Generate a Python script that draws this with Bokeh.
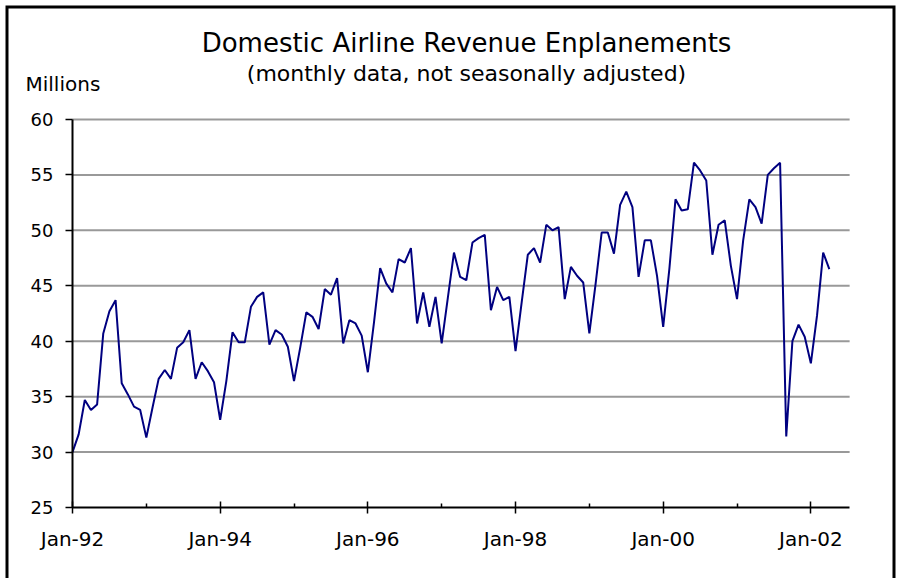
from bokeh.plotting import figure
from bokeh.models import Range1d, FixedTicker
from bokeh.core.properties import value
from bokeh.embed import file_html
from bokeh.resources import INLINE

# ---- data (millions of enplanements, monthly, Jan-1992 .. Apr-2002) ----
values_1992 = [30.0, 31.6, 34.7, 33.8, 34.3, 40.7, 42.7, 43.7, 36.2, 35.2, 34.1, 33.8]
values_1993 = [31.3, 34.0, 36.6, 37.4, 36.6, 39.4, 39.9, 41.0, 36.6, 38.1, 37.3, 36.3]
values_1994 = [32.9, 36.4, 40.8, 39.9, 39.9, 43.1, 44.0, 44.4, 39.7, 41.0, 40.6, 39.5]
values_1995 = [36.4, 39.4, 42.6, 42.2, 41.1, 44.7, 44.2, 45.7, 39.8, 41.9, 41.6, 40.5]
values_1996 = [37.2, 41.7, 46.6, 45.2, 44.4, 47.4, 47.1, 48.4, 41.6, 44.4, 41.3, 44.0]
values_1997 = [39.8, 43.9, 48.0, 45.8, 45.5, 48.9, 49.3, 49.6, 42.8, 44.9, 43.7, 44.0]
values_1998 = [39.1, 43.5, 47.8, 48.4, 47.1, 50.5, 50.0, 50.3, 43.8, 46.7, 45.9, 45.3]
values_1999 = [40.7, 45.1, 49.8, 49.8, 47.9, 52.3, 53.5, 52.1, 45.8, 49.1, 49.1, 45.9]
values_2000 = [41.3, 46.5, 52.8, 51.8, 51.9, 56.1, 55.4, 54.5, 47.8, 50.5, 50.9, 46.8]
values_2001 = [43.8, 49.1, 52.8, 52.1, 50.6, 55.0, 55.6, 56.1, 31.4, 40.0, 41.5, 40.4]
values_2002 = [38.0, 42.3, 48.0, 46.5]

values = (values_1992 + values_1993 + values_1994 + values_1995 + values_1996 +
          values_1997 + values_1998 + values_1999 + values_2000 + values_2001 + values_2002)
months = list(range(len(values)))  # 0 = Jan-92

x_tick_positions = [0, 24, 48, 72, 96, 120]
x_tick_labels = ["Jan-92", "Jan-94", "Jan-96", "Jan-98", "Jan-00", "Jan-02"]
x_minor_positions = [12, 36, 60, 84, 108]
y_ticks = [25, 30, 35, 40, 45, 50, 55, 60]
grid_levels = [30, 35, 40, 45, 50, 55, 60]

title_text = "Domestic Airline Revenue Enplanements"
subtitle_text = "(monthly data, not seasonally adjusted)"
unit_text = "Millions"

# ---- layout: the plot frame covers the whole canvas; scales map data -> pixels ----
W, H = 896, 578
PX0, PY0 = 72, 507       # pixel position of (month 0, value 25)
PX_PER_MONTH = 6.153
PX_PER_UNIT = 11.086
X_END = 126.3            # right end of axis / gridlines (months)
Y_MIN, Y_MAX = 25, 60


def dx(px):
    return (px - PX0) / PX_PER_MONTH


def dy(py):
    return Y_MIN + (PY0 - py) / PX_PER_UNIT


FONT = "DejaVu Sans"

p = figure(width=W, height=H, output_backend="svg", toolbar_location=None,
           x_range=Range1d(dx(0), dx(W)), y_range=Range1d(dy(H), dy(0)),
           min_border=0, min_border_left=0, min_border_right=0,
           min_border_top=0, min_border_bottom=0)
p.outline_line_color = None
p.background_fill_color = "white"
p.border_fill_color = "white"
p.xgrid.visible = False
p.ygrid.visible = False

# horizontal gridlines
p.segment(x0=[0] * len(grid_levels), x1=[X_END] * len(grid_levels),
          y0=grid_levels, y1=grid_levels, line_color="#999999", line_width=2)

# data line
p.line(months, values, line_color="#000080", line_width=2)

# x axis
xa = p.xaxis[0]
xa.fixed_location = Y_MIN
xa.bounds = (0, X_END)
xa.ticker = FixedTicker(ticks=x_tick_positions, minor_ticks=x_minor_positions)
xa.major_label_overrides = {k: v for k, v in zip(x_tick_positions, x_tick_labels)}
xa.axis_line_color = "black"
xa.axis_line_width = 2
xa.major_tick_line_color = "black"
xa.major_tick_line_width = 1.5
xa.major_tick_in = 6
xa.major_tick_out = 6
xa.minor_tick_line_color = "black"
xa.minor_tick_line_width = 1.5
xa.minor_tick_in = 4
xa.minor_tick_out = 0
xa.major_label_text_font = FONT
xa.major_label_text_font_size = "20px"
xa.major_label_text_color = "black"
xa.major_label_standoff = 13

# y axis
ya = p.yaxis[0]
ya.fixed_location = 0
ya.bounds = (Y_MIN, Y_MAX)
ya.ticker = FixedTicker(ticks=y_ticks)
ya.axis_line_color = "black"
ya.axis_line_width = 2
ya.major_tick_line_color = "black"
ya.major_tick_line_width = 1.5
ya.major_tick_in = 0
ya.major_tick_out = 7
ya.minor_tick_line_color = None
ya.major_label_text_font = FONT
ya.major_label_text_font_size = "18px"
ya.major_label_text_color = "black"
ya.major_label_standoff = 12

# texts
p.text(x=[dx(466)], y=[dy(42)], text=[title_text], text_align="center",
       text_baseline="alphabetic", text_font=value(FONT), text_font_size="26px",
       text_color="black")
p.text(x=[dx(466)], y=[dy(73)], text=[subtitle_text], text_align="center",
       text_baseline="alphabetic", text_font=value(FONT), text_font_size="22px",
       text_color="black")
p.text(x=[dx(25)], y=[dy(83)], text=[unit_text], text_align="left",
       text_baseline="alphabetic", text_font=value(FONT), text_font_size="20px",
       text_color="black")

# outer chart frame (left, top and right edges)
fx = [dx(6.5), dx(6.5), dx(893.5), dx(893.5)]
fy = [dy(H + 10), dy(6.5), dy(6.5), dy(H + 10)]
p.line(fx, fy, line_color="black", line_width=3, line_join="miter")

open("out.html", "w").write(file_html(p, INLINE))
